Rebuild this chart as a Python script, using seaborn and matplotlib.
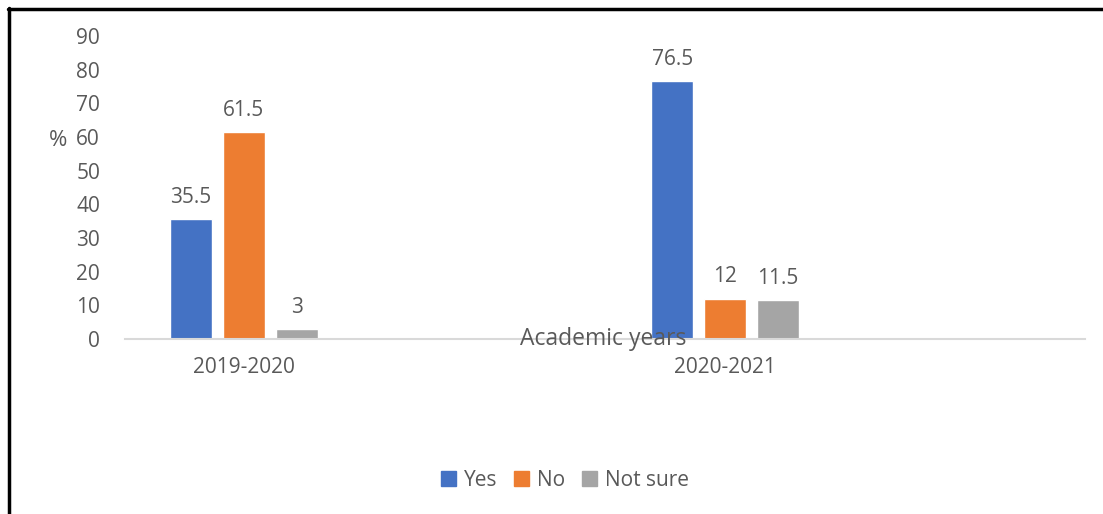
import pandas as pd
import numpy as np
import matplotlib.pyplot as plt
import matplotlib.lines as mlines
import seaborn as sns

years = ["2019-2020", "2020-2021"]
answers = ["Yes", "No", "Not sure"]
yes_vals = [35.5, 76.5]
no_vals = [61.5, 12]
notsure_vals = [3, 11.5]
colors = ["#4472C4", "#ED7D31", "#A5A5A5"]

df = pd.DataFrame({
    "Year": years * 3,
    "Answer": [a for a in answers for _ in years],
    "Value": yes_vals + no_vals + notsure_vals,
})

sns.set_style("white")
plt.rcParams["font.family"] = ["Open Sans", "DejaVu Sans"]
txt = "#595959"

W, H = 1103, 514
fig = plt.figure(figsize=(W / 100, H / 100), dpi=100)
ax = fig.add_axes([125 / W, (H - 339) / H, (1085 - 125) / W, (339 - 36) / H])

sns.barplot(data=df, x="Year", y="Value", hue="Answer", order=years,
            hue_order=answers, palette=colors, width=0.33, gap=0.2,
            saturation=1, ax=ax, legend=False)

for cont in ax.containers:
    ax.bar_label(cont, fmt="%g", padding=8, fontsize=15, color=txt)

ax.set_xlim(-0.247, 1.748)
ax.set_ylim(0, 90)
ax.set_yticks(np.arange(0, 91, 10))
ax.set_xlabel("")
ax.set_ylabel("")
ax.tick_params(axis="y", length=0, pad=18, labelsize=15, labelcolor=txt)
ax.tick_params(axis="x", length=0, pad=13, labelsize=15, labelcolor=txt)
for s in ["left", "right", "top"]:
    ax.spines[s].set_visible(False)
ax.spines["bottom"].set_color("#d9d9d9")
ax.spines["bottom"].set_linewidth(1.5)

ax.text(0.498, 0.0, "Academic years", transform=ax.transAxes, ha="center",
        va="center", fontsize=16.5, color=txt, zorder=10)
fig.text(58 / W, 1 - 141 / H, "%", ha="center", va="center", fontsize=16, color=txt)

handles = [plt.Rectangle((0, 0), 1, 1, color=c) for c in colors]
fig.legend(handles, answers, loc="center", bbox_to_anchor=(565 / W, 1 - 480 / H),
           ncol=3, frameon=False, fontsize=15, handlelength=0.7, handleheight=0.7,
           handletextpad=0.4, columnspacing=0.8, labelcolor=txt)

# border around the figure (top and left only visible)
fig.add_artist(mlines.Line2D([8 / W, 1], [1 - 9 / H, 1 - 9 / H], color="black", lw=2.5))
fig.add_artist(mlines.Line2D([9 / W, 9 / W], [0, 1 - 8 / H], color="black", lw=2.5))

fig.savefig("out.png", dpi=100)
